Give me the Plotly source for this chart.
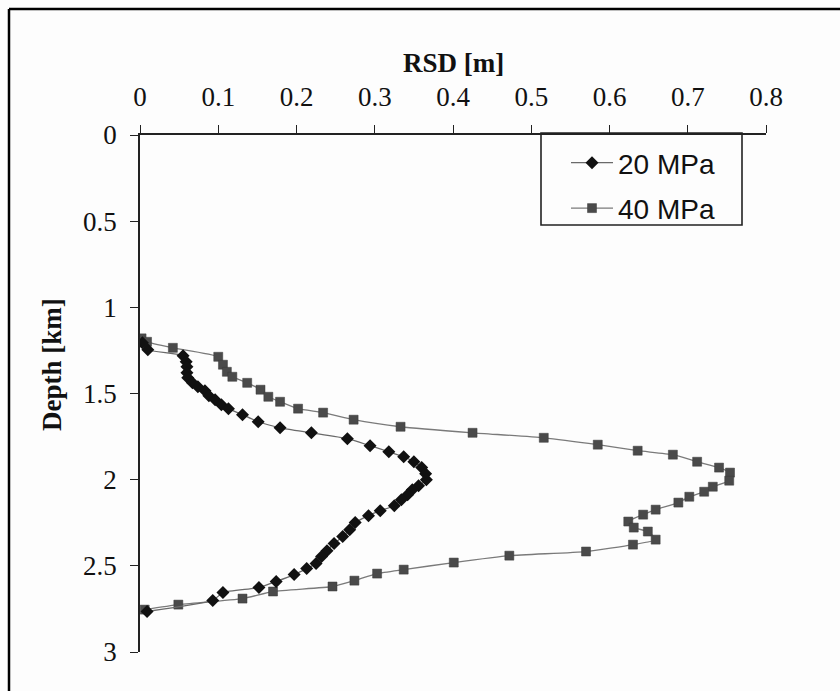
import plotly.graph_objects as go

# RSD (m) versus depth (km) for two stress levels
rsd_20 = [0.003, 0.010, 0.055, 0.059, 0.060, 0.060, 0.061, 0.067, 0.074, 0.083,
          0.088, 0.096, 0.104, 0.113, 0.131, 0.151, 0.179, 0.219, 0.265, 0.294,
          0.318, 0.337, 0.350, 0.360, 0.365, 0.366, 0.356, 0.348, 0.342, 0.334,
          0.325, 0.307, 0.292, 0.275, 0.268, 0.259, 0.248, 0.239, 0.232, 0.225,
          0.213, 0.197, 0.174, 0.152, 0.106, 0.093, 0.009]
depth_20 = [1.206, 1.246, 1.281, 1.316, 1.345, 1.380, 1.409, 1.438, 1.461, 1.484,
            1.513, 1.536, 1.565, 1.588, 1.623, 1.664, 1.699, 1.728, 1.762, 1.803,
            1.838, 1.867, 1.896, 1.930, 1.965, 2.000, 2.035, 2.058, 2.087, 2.116,
            2.151, 2.180, 2.209, 2.249, 2.290, 2.330, 2.371, 2.412, 2.446, 2.487,
            2.516, 2.551, 2.591, 2.626, 2.655, 2.701, 2.765]

rsd_40 = [0.002, 0.009, 0.042, 0.100, 0.106, 0.111, 0.118, 0.137, 0.154, 0.164,
          0.179, 0.202, 0.234, 0.273, 0.333, 0.425, 0.516, 0.585, 0.636, 0.681,
          0.712, 0.740, 0.754, 0.753, 0.732, 0.721, 0.702, 0.688, 0.659, 0.643,
          0.624, 0.631, 0.649, 0.659, 0.630, 0.570, 0.472, 0.401, 0.337, 0.303,
          0.274, 0.246, 0.170, 0.131, 0.049, 0.006]
depth_40 = [1.180, 1.200, 1.235, 1.287, 1.333, 1.374, 1.403, 1.438, 1.478, 1.519,
            1.548, 1.588, 1.611, 1.652, 1.693, 1.728, 1.757, 1.797, 1.832, 1.855,
            1.896, 1.930, 1.959, 2.006, 2.041, 2.070, 2.099, 2.133, 2.174, 2.203,
            2.243, 2.278, 2.301, 2.348, 2.377, 2.417, 2.441, 2.481, 2.522, 2.545,
            2.586, 2.620, 2.649, 2.690, 2.725, 2.754]

x_ticks = [0, 0.1, 0.2, 0.3, 0.4, 0.5, 0.6, 0.7, 0.8]
x_tick_text = ["0", "0.1", "0.2", "0.3", "0.4", "0.5", "0.6", "0.7", "0.8"]
y_ticks = [0, 0.5, 1, 1.5, 2, 2.5, 3]
y_tick_text = ["0", "0.5", "1", "1.5", "2", "2.5", "3"]

W, H = 840, 691
L, R, T, B = 140, 74, 135, 39
PW, PH = W - L - R, H - T - B


def px_x(px):
    return (px - L) / PW


def px_y(py):
    return (H - B - py) / PH


SERIF = "Liberation Serif, Times New Roman, serif"
SANS = "Liberation Sans, Arial, sans-serif"

fig = go.Figure()

fig.add_trace(go.Scatter(
    x=rsd_40, y=depth_40, name="40 MPa", mode="lines+markers",
    line=dict(color="#7a7a7a", width=1.3, shape="spline", smoothing=0.5),
    marker=dict(symbol="square", size=9, color="#4a4a4a",
                line=dict(color="#3a3a3a", width=0.5)),
    legendrank=2, legendgroup="b",
))
fig.add_trace(go.Scatter(
    x=rsd_20, y=depth_20, name="20 MPa", mode="lines+markers",
    line=dict(color="#6a6a6a", width=1.3, shape="spline", smoothing=0.5),
    marker=dict(symbol="diamond", size=10, color="#111111"),
    legendrank=1, legendgroup="a",
))

axis_common = dict(
    showgrid=False, zeroline=False, showline=True, linecolor="#222222",
    linewidth=1.6, ticks="outside", ticklen=8, tickwidth=1.4,
    tickcolor="#222222", tickfont=dict(family=SERIF, size=27, color="#111111"),
    mirror=False,
)

fig.update_xaxes(
    side="top", range=[0, 0.8], tickvals=x_ticks, ticktext=x_tick_text,
    ticklabelstandoff=8, **axis_common,
)
fig.update_yaxes(
    range=[3, 0], tickvals=y_ticks, ticktext=y_tick_text,
    ticklabelstandoff=8, **axis_common,
)

fig.add_annotation(
    text="<b>RSD [m]</b>", x=0.5, y=px_y(63), xref="paper", yref="paper",
    showarrow=False, font=dict(family=SERIF, size=27, color="#111111"),
    xanchor="center", yanchor="middle",
)
fig.add_annotation(
    text="<b>Depth [km]</b>", x=px_x(52), y=px_y(365), xref="paper", yref="paper",
    showarrow=False, textangle=-90, font=dict(family=SERIF, size=27, color="#111111"),
    xanchor="center", yanchor="middle",
)

# legend frame
fig.add_shape(type="rect", xref="paper", yref="paper",
              x0=px_x(541), x1=px_x(742), y0=px_y(225), y1=px_y(133),
              line=dict(color="#222222", width=1.6), fillcolor="rgba(0,0,0,0)")

# outer frame of the figure
fig.add_shape(type="line", xref="paper", yref="paper",
              x0=px_x(9), x1=px_x(845), y0=px_y(9), y1=px_y(9),
              line=dict(color="#000000", width=2.5))
fig.add_shape(type="line", xref="paper", yref="paper",
              x0=px_x(9), x1=px_x(9), y0=px_y(9), y1=px_y(700),
              line=dict(color="#000000", width=2.5))

fig.update_layout(
    width=W, height=H, autosize=False,
    margin=dict(l=L, r=R, t=T, b=B, pad=0),
    paper_bgcolor="#fdfdfd", plot_bgcolor="rgba(0,0,0,0)",
    showlegend=True,
    legend=dict(
        x=px_x(566), y=px_y(138), xanchor="left", yanchor="top",
        bgcolor="rgba(0,0,0,0)", borderwidth=0,
        font=dict(family=SANS, size=28, color="#111111"),
        tracegroupgap=6, itemwidth=42,
    ),
)

fig.write_html("out.html")
